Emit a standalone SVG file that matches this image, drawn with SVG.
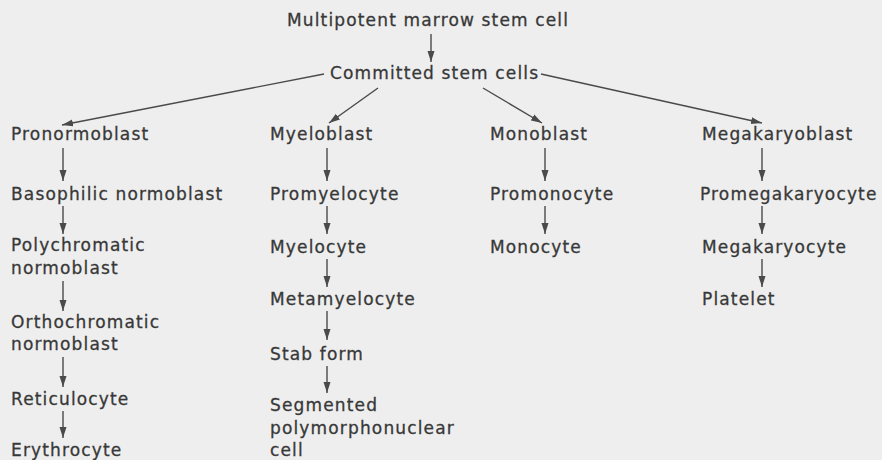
<svg xmlns="http://www.w3.org/2000/svg" width="882" height="460" viewBox="0 0 882 460">
<defs>
<style>
text{font-family:"DejaVu Sans","Liberation Sans",sans-serif;font-size:17px;letter-spacing:1.15px;fill:#383838;stroke:#383838;stroke-width:0.3}
.c line{stroke:#4a4a4a;stroke-width:1.4;fill:none}
</style>
<marker id="ah" markerUnits="userSpaceOnUse" markerWidth="12" markerHeight="8" refX="11" refY="3.5" orient="auto">
<path d="M0,0 L11,3.5 L0,7 Z" fill="#4a4a4a"/>
</marker>
</defs>
<rect width="882" height="460" fill="#eeeeee"/>
<g id="n-multipotent"><text x="287" y="26">Multipotent marrow stem cell</text></g>
<g id="n-committed"><text x="330" y="79">Committed stem cells</text></g>
<g id="n-pronormoblast"><text x="11" y="140">Pronormoblast</text></g>
<g id="n-myeloblast"><text x="270" y="140">Myeloblast</text></g>
<g id="n-monoblast"><text x="490" y="140">Monoblast</text></g>
<g id="n-megakaryoblast"><text x="702" y="140">Megakaryoblast</text></g>
<g id="n-basophilic"><text x="11" y="200">Basophilic normoblast</text></g>
<g id="n-promyelocyte"><text x="270" y="200">Promyelocyte</text></g>
<g id="n-promonocyte"><text x="490" y="200">Promonocyte</text></g>
<g id="n-promegakaryocyte"><text x="700" y="200">Promegakaryocyte</text></g>
<g id="n-polychromatic"><text x="11" y="251">Polychromatic</text><text x="11" y="274">normoblast</text></g>
<g id="n-myelocyte"><text x="270" y="253">Myelocyte</text></g>
<g id="n-monocyte"><text x="490" y="253">Monocyte</text></g>
<g id="n-megakaryocyte"><text x="702" y="253">Megakaryocyte</text></g>
<g id="n-metamyelocyte"><text x="270" y="305">Metamyelocyte</text></g>
<g id="n-platelet"><text x="702" y="305">Platelet</text></g>
<g id="n-orthochromatic"><text x="11" y="328">Orthochromatic</text><text x="11" y="350">normoblast</text></g>
<g id="n-stab"><text x="270" y="360">Stab form</text></g>
<g id="n-reticulocyte"><text x="11" y="405">Reticulocyte</text></g>
<g id="n-segmented"><text x="270" y="411">Segmented</text><text x="270" y="434">polymorphonuclear</text><text x="270" y="456">cell</text></g>
<g id="n-erythrocyte"><text x="11" y="456">Erythrocyte</text></g>
<g class="c" id="connectors">
<line x1="431" y1="34" x2="431" y2="62" marker-end="url(#ah)"/>
<line x1="324" y1="74" x2="62" y2="125" marker-end="url(#ah)"/>
<line x1="378" y1="88" x2="329" y2="123" marker-end="url(#ah)"/>
<line x1="483" y1="88" x2="542" y2="123" marker-end="url(#ah)"/>
<line x1="541" y1="74" x2="762" y2="123" marker-end="url(#ah)"/>
<line x1="63" y1="148" x2="63" y2="181" marker-end="url(#ah)"/>
<line x1="327" y1="148" x2="327" y2="181" marker-end="url(#ah)"/>
<line x1="545" y1="148" x2="545" y2="181" marker-end="url(#ah)"/>
<line x1="762" y1="148" x2="762" y2="181" marker-end="url(#ah)"/>
<line x1="63" y1="206" x2="63" y2="234" marker-end="url(#ah)"/>
<line x1="327" y1="206" x2="327" y2="234" marker-end="url(#ah)"/>
<line x1="545" y1="206" x2="545" y2="234" marker-end="url(#ah)"/>
<line x1="762" y1="206" x2="762" y2="234" marker-end="url(#ah)"/>
<line x1="327" y1="259" x2="327" y2="287" marker-end="url(#ah)"/>
<line x1="762" y1="259" x2="762" y2="287" marker-end="url(#ah)"/>
<line x1="63" y1="281" x2="63" y2="311" marker-end="url(#ah)"/>
<line x1="327" y1="311" x2="327" y2="340" marker-end="url(#ah)"/>
<line x1="63" y1="357" x2="63" y2="387" marker-end="url(#ah)"/>
<line x1="327" y1="366" x2="327" y2="393" marker-end="url(#ah)"/>
<line x1="63" y1="411" x2="63" y2="438" marker-end="url(#ah)"/>
</g>
</svg>
